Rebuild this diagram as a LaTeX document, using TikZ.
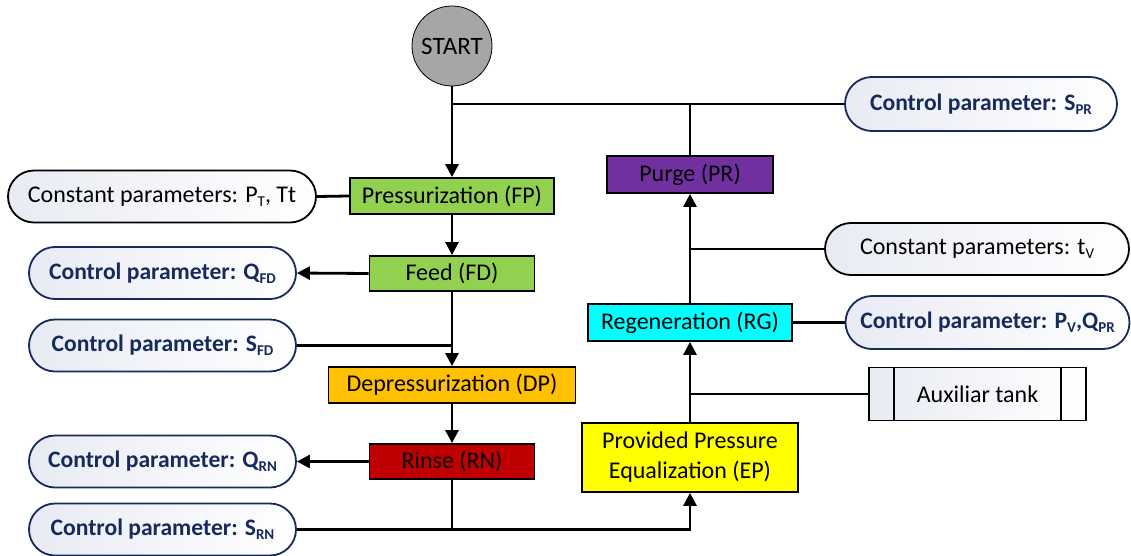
\documentclass[tikz,border=0pt]{standalone}
\usepackage{fontspec}
\setmainfont{Carlito}
\usetikzlibrary{arrows.meta,shapes.misc,shapes.geometric}
\definecolor{navy}{RGB}{22,42,94}
\definecolor{shadeL}{RGB}{232,235,243}
\definecolor{fgreen}{RGB}{146,208,80}
\definecolor{forange}{RGB}{255,192,0}
\definecolor{fred}{RGB}{192,0,0}
\definecolor{fyellow}{RGB}{255,255,0}
\definecolor{fcyan}{RGB}{0,255,255}
\definecolor{fpurple}{RGB}{112,48,160}
\definecolor{fgray}{RGB}{166,166,166}
\newcommand\subs[1]{\raisebox{-0.35ex}{\fontsize{15}{15}\selectfont #1}}
\begin{document}
\begin{tikzpicture}[x=1pt,y=-1pt,
  every node/.style={font=\fontsize{24}{28}\selectfont, inner sep=0pt},
  stepbox/.style={draw=black, line width=1.8pt, rectangle, align=center},
  ctrl/.style={rounded rectangle, draw=navy, line width=1.8pt, left color=shadeL, right color=white,
     text=navy, font=\fontsize{23.6}{27}\selectfont\bfseries, minimum height=52pt},
  cons/.style={rounded rectangle, draw=black, line width=1.8pt, left color=shadeL, right color=white,
     text=black, minimum height=52pt},
  conn/.style={line width=2.8pt, draw=black},
  arr/.style={conn, -{Triangle[length=13pt,width=13pt]}}
]
\useasboundingbox (0,0) rectangle (1131,556);

% process steps
\node[circle, draw=black, line width=0.8pt, fill=fgray, minimum size=80pt, font=\fontsize{25}{28}\selectfont] (start) at (452,46) {START};
\node[stepbox, fill=fgreen, minimum width=204pt, minimum height=36pt] (fp) at (452,196) {Pressurization (FP)};
\node[stepbox, fill=fgreen, minimum width=165pt, minimum height=35pt] (fd) at (452,273.5) {Feed (FD)};
\node[stepbox, fill=forange, minimum width=247pt, minimum height=36pt] (dp) at (452,385) {Depressurization (DP)};
\node[stepbox, fill=fred, minimum width=165pt, minimum height=35pt] (rn) at (452,461.5) {Rinse (RN)};
\node[stepbox, fill=fyellow, minimum width=216pt, minimum height=69pt, font=\fontsize{24}{30}\selectfont] (ep) at (690,457.5) {Provided Pressure\\Equalization (EP)};
\node[stepbox, fill=fcyan, minimum width=204pt, minimum height=37pt] (rg) at (690,322.5) {Regeneration (RG)};
\node[stepbox, fill=fpurple, minimum width=166pt, minimum height=37pt] (pr) at (690,174.5) {Purge (PR)};

% parameter nodes
\node[cons, minimum width=308pt] (cpt) at (162,196.5) {Constant parameters: P\subs{T}, Tt};
\node[ctrl, minimum width=267pt] (qfd) at (162.5,273) {Control parameter: Q\subs{FD}};
\node[ctrl, minimum width=267pt] (sfd) at (162.5,345.5) {Control parameter: S\subs{FD}};
\node[ctrl, minimum width=267pt] (qrn) at (162.5,461.5) {Control parameter: Q\subs{RN}};
\node[ctrl, minimum width=267pt] (srn) at (162.5,529.5) {Control parameter: S\subs{RN}};
\node[ctrl, minimum width=272pt, minimum height=54pt] (spr) at (981,104) {Control parameter: S\subs{PR}};
\node[cons, minimum width=304pt] (tv) at (977,249) {Constant parameters: t\subs{V}};
\node[ctrl, minimum width=284pt, minimum height=53pt] (pv) at (987.5,322.5) {Control parameter: P\subs{V},Q\subs{PR}};
\node[rectangle, draw=black, line width=1.8pt, left color=shadeL, right color=white,
      minimum width=217pt, minimum height=53pt] (aux) at (977.5,394) {Auxiliar tank};
\draw[line width=1.8pt] ([xshift=26pt]aux.north west) -- ([xshift=26pt]aux.south west);
\draw[line width=1.8pt] ([xshift=-26pt]aux.north east) -- ([xshift=-26pt]aux.south east);

% connectors, left column
\draw[arr] (start) -- (fp);
\draw[conn] (spr.west) -- (spr.west -| start);
\draw[conn] (pr.north) -- (pr.north |- spr.west);
\draw[conn] (cpt.east) -- (fp.west);
\draw[arr] (fp) -- (fd);
\draw[arr] (fd.west) -- (qfd.east);
\draw[arr] (fd) -- (dp);
\draw[conn] (sfd.east) -- (sfd.east -| fd);
\draw[arr] (dp) -- (rn);
\draw[arr] (rn.west) -- (qrn.east);
\draw[conn] (rn.south) -- (rn.south |- srn.east);
\draw[arr] (srn.east) -| (ep.south);

% connectors, right column
\draw[arr] (ep) -- (rg);
\draw[conn] (aux.west) -- (aux.west -| rg);
\draw[conn] (rg.east) -- (pv.west);
\draw[arr] (rg) -- (pr);
\draw[conn] (tv.west) -- (tv.west -| rg);
\end{tikzpicture}
\end{document}
